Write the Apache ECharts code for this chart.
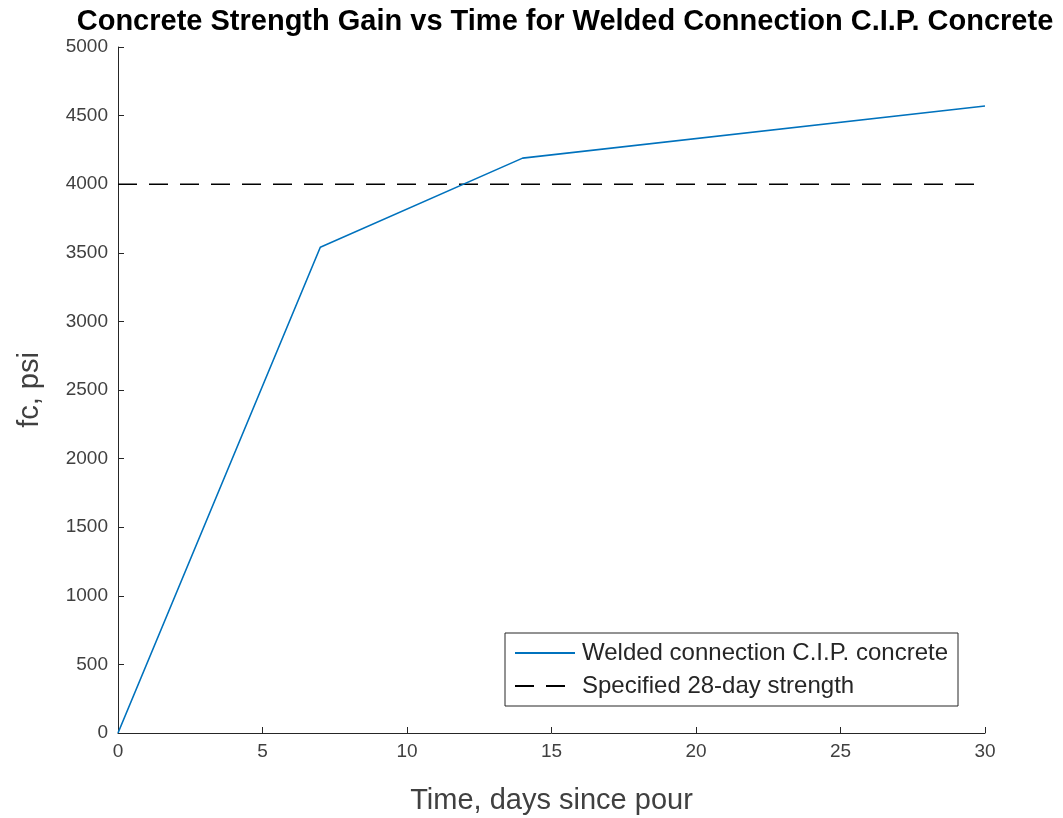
<!DOCTYPE html>
<html>
<head>
<meta charset="utf-8">
<script src="https://cdn.jsdelivr.net/npm/echarts@6/dist/echarts.min.js"></script>
<style>
  html, body { margin: 0; padding: 0; background: #fff; }
  #chart { width: 1063px; height: 818px; }
</style>
</head>
<body>
<div id="chart"></div>
<script>
// Strength gain samples (days since pour, psi)
const days = [0, 7, 14, 30];
const strength = [0, 3540, 4190, 4570];
// Specified 28-day strength reference
const specDays = [0, 30];
const specStrength = [4000, 4000];

const xTicks = [0, 5, 10, 15, 20, 25, 30];
const yTicks = [0, 500, 1000, 1500, 2000, 2500, 3000, 3500, 4000, 4500, 5000];

const axisColor = '#262626';
const labelColor = '#404040';
const fontFamily = 'Liberation Sans, Arial, sans-serif';

const chart = echarts.init(document.getElementById('chart'), null, { renderer: 'canvas' });

chart.setOption({
  animation: false,
  backgroundColor: '#fff',
  title: {
    text: 'Concrete Strength Gain vs Time for Welded Connection C.I.P. Concrete',
    left: 560,
    top: 2,
    textAlign: 'center',
    textStyle: { fontFamily, fontWeight: 'bold', fontSize: 29, color: '#000' }
  },
  grid: { left: 118, right: 78, top: 47, bottom: 85, containLabel: false, outerBoundsMode: 'none' },
  legend: {
    right: 105,
    bottom: 112,
    orient: 'vertical',
    itemWidth: 60,
    itemHeight: 14,
    itemGap: 9,
    padding: [8, 10, 8, 9],
    borderColor: axisColor,
    borderWidth: 1,
    backgroundColor: '#fff',
    itemStyle: { opacity: 0 },
    textStyle: { fontFamily, fontSize: 24, color: axisColor, padding: [0, 0, 0, 2] },
    data: ['Welded connection C.I.P. concrete', 'Specified 28-day strength']
  },
  xAxis: {
    type: 'value',
    min: 0,
    max: 30,
    interval: 5,
    name: 'Time, days since pour',
    nameLocation: 'middle',
    nameGap: 53,
    nameTextStyle: { fontFamily, fontSize: 29, color: labelColor },
    axisLine: { show: true, onZero: false, lineStyle: { color: axisColor, width: 1 } },
    axisTick: { show: true, inside: true, length: 6, lineStyle: { color: axisColor } },
    axisLabel: { fontFamily, fontSize: 19, color: labelColor, margin: 9,
      formatter: v => xTicks.includes(v) ? String(v) : '' },
    splitLine: { show: false }
  },
  yAxis: {
    type: 'value',
    min: 0,
    max: 5000,
    interval: 500,
    name: 'fc, psi',
    nameLocation: 'middle',
    nameGap: 74,
    nameTextStyle: { fontFamily, fontSize: 29, color: labelColor },
    axisLine: { show: true, onZero: false, lineStyle: { color: axisColor, width: 1 } },
    axisTick: { show: true, inside: true, length: 6, lineStyle: { color: axisColor } },
    axisLabel: { fontFamily, fontSize: 19, color: labelColor, margin: 10,
      formatter: v => yTicks.includes(v) ? String(v) : '' },
    splitLine: { show: false }
  },
  series: [
    {
      name: 'Welded connection C.I.P. concrete',
      type: 'line',
      data: days.map((d, i) => [d, strength[i]]),
      showSymbol: false,
      symbol: 'none',
      lineStyle: { color: '#0072BD', width: 1.6 },
      itemStyle: { color: '#0072BD' },
      z: 3
    },
    {
      name: 'Specified 28-day strength',
      type: 'line',
      data: specDays.map((d, i) => [d, specStrength[i]]),
      showSymbol: false,
      symbol: 'none',
      lineStyle: { color: '#000', width: 1.4, type: [19, 12] },
      itemStyle: { color: '#000' },
      z: 2
    }
  ]
});
</script>
</body>
</html>
